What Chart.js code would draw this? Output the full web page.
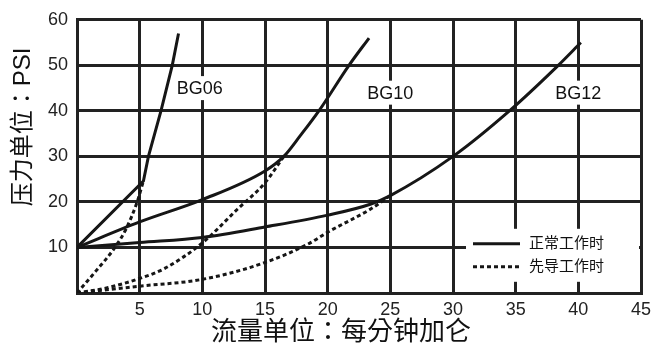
<!DOCTYPE html>
<html><head><meta charset="utf-8">
<script src="https://cdn.jsdelivr.net/npm/chart.js@4"></script>
<style>html,body{margin:0;padding:0;background:#fff;}#wrap{width:660px;height:351px;position:relative}</style>
</head><body><div id="wrap"><canvas id="c" width="660" height="351"></canvas></div>
<script>
// ---- data ----
const seriesNames = ['BG06', 'BG10', 'BG12'];
const legendLabels = ['正常工作时', '先导工作时'];
const xTitle = '流量单位：每分钟加仑';
const yTitle = '压力单位：PSI';
const xTickValues = [5, 10, 15, 20, 25, 30, 35, 40, 45];
const yTickValues = [10, 20, 30, 40, 50, 60];

// normal operation (solid)
const bg06NormalX = [0, 5.3, 5.7, 6.7, 7.6, 8.1];
const bg06NormalY = [10, 24.6, 30, 40, 50, 57];
const bg10NormalX = [0, 5, 10, 15, 16.5, 17.8, 19.3, 21.7, 23.3];
const bg10NormalY = [10, 15.6, 20.5, 26.8, 30, 34.5, 40, 50, 56];
const bg12NormalX = [0, 5, 10, 15, 20, 23.4, 25, 30, 34.5, 38.4, 40.2];
const bg12NormalY = [10, 11.1, 12.2, 14.5, 17.1, 19.5, 21.4, 30, 40, 50, 55];
// pilot operation (dotted)
const bg06PilotX = [0, 1.5, 3.0, 3.9, 4.8, 5.3];
const bg06PilotY = [0, 4.8, 9.9, 14, 20, 24.6];
const bg10PilotX = [0, 2.5, 5, 7, 10, 12.8, 15, 16.5];
const bg10PilotY = [0, 1.2, 3.2, 5.4, 11, 18.4, 24.2, 30];
const bg12PilotX = [0, 5, 10, 14.9, 18.4, 20.1, 23.4, 25];
const bg12PilotY = [0, 1.5, 3, 6.6, 10.7, 13.5, 18.4, 21.4];
// label anchor values (data coords)
const labelX = [9.8, 25, 40];
const labelY = [45, 44, 44];

const pts = (xs, ys) => xs.map((x, i) => ({x, y: ys[i]}));
const INK = '#161616';
const GRID = '#222';
const FONT = "'Liberation Sans', 'Noto Sans CJK SC', sans-serif";
const TITLE_FONT = "'Liberation Sans', 'Noto Sans CJK TC', sans-serif";
Chart.defaults.font.family = FONT;

function solid(xs, ys, smooth) {
  return {data: pts(xs, ys), showLine: true, borderColor: INK, borderWidth: 3, pointRadius: 0,
    cubicInterpolationMode: smooth ? 'monotone' : 'default', tension: 0, fill: false};
}
function dotted(xs, ys) {
  return {data: pts(xs, ys), showLine: true, borderColor: INK, borderWidth: 3, pointRadius: 0,
    borderDash: [4, 3], cubicInterpolationMode: 'monotone', fill: false};
}

const decor = {
  id: 'decor',
  beforeDatasetsDraw(chart) {
    const {ctx, chartArea: ca, scales: {x, y}} = chart;
    ctx.save();
    ctx.font = '18px ' + FONT;
    ctx.textAlign = 'center';
    ctx.textBaseline = 'middle';
    seriesNames.forEach((n, i) => {
      const px = x.getPixelForValue(labelX[i]);
      const py = y.getPixelForValue(labelY[i]);
      const w = ctx.measureText(n).width;
      ctx.fillStyle = '#fff';
      ctx.fillRect(px - w / 2 - 3, py - 12, w + 6, 24);
      ctx.fillStyle = '#111';
      ctx.fillText(n, px, py + 1);
    });
    const lx0 = ca.left + 389, ly0 = ca.top + 209;
    ctx.fillStyle = '#fff';
    ctx.fillRect(lx0, ly0, ca.right - 2 - lx0, 53);
    ctx.lineWidth = 3;
    ctx.strokeStyle = INK;
    ctx.beginPath(); ctx.moveTo(lx0 + 7, ly0 + 15); ctx.lineTo(lx0 + 54, ly0 + 15); ctx.stroke();
    ctx.setLineDash([4, 3]);
    ctx.beginPath(); ctx.moveTo(lx0 + 7, ly0 + 38); ctx.lineTo(lx0 + 54, ly0 + 38); ctx.stroke();
    ctx.setLineDash([]);
    ctx.font = '15px ' + FONT;
    ctx.textAlign = 'left';
    ctx.fillStyle = '#111';
    ctx.fillText(legendLabels[0], lx0 + 63, ly0 + 15);
    ctx.fillText(legendLabels[1], lx0 + 63, ly0 + 38);
    ctx.restore();
  },
  afterDraw(chart) {
    const {ctx} = chart;
    ctx.save();
    ctx.fillStyle = '#111';
    ctx.textAlign = 'center';
    ctx.textBaseline = 'middle';
    ctx.font = '26px ' + TITLE_FONT;
    ctx.fillText(xTitle, 341, 333);
    ctx.font = '24px ' + TITLE_FONT;
    ctx.translate(23, 127);
    ctx.rotate(-Math.PI / 2);
    ctx.fillText(yTitle, 0, 0);
    ctx.restore();
  }
};

new Chart(document.getElementById('c'), {
  type: 'scatter',
  data: {datasets: [
    solid(bg06NormalX, bg06NormalY, false),
    solid(bg10NormalX, bg10NormalY, true),
    solid(bg12NormalX, bg12NormalY, true),
    dotted(bg06PilotX, bg06PilotY),
    dotted(bg10PilotX, bg10PilotY),
    dotted(bg12PilotX, bg12PilotY)
  ]},
  options: {
    responsive: false, animation: false, devicePixelRatio: 1,
    layout: {padding: {top: 13, right: 19, left: 0, bottom: 0}},
    plugins: {legend: {display: false}, tooltip: {enabled: false}},
    scales: {
      x: {type: 'linear', min: 0, max: 45,
        ticks: {stepSize: 5, autoSkip: false, maxRotation: 0, padding: 6, color: '#222', font: {size: 18},
          callback: v => xTickValues.includes(v) ? String(v) : ''},
        grid: {color: GRID, lineWidth: 3, drawTicks: false},
        border: {color: GRID, width: 3},
        afterFit: s => { s.height = 58; }},
      y: {type: 'linear', min: 0, max: 60,
        ticks: {stepSize: 10, autoSkip: false, padding: 9, color: '#222', font: {size: 18},
          callback: v => yTickValues.includes(v) ? String(v) : ''},
        grid: {color: GRID, lineWidth: 3, drawTicks: false},
        border: {color: GRID, width: 3},
        afterFit: s => { s.width = 77; }}
    }
  },
  plugins: [decor]
});
</script></body></html>
